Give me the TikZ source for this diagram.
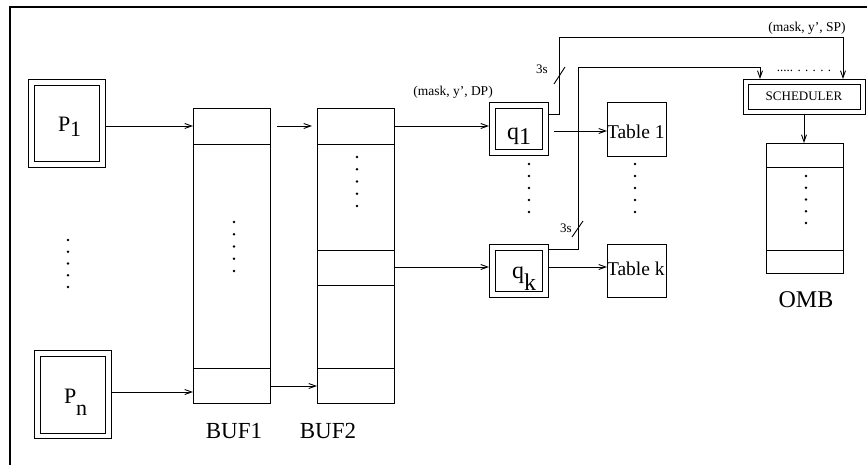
\documentclass[tikz,border=0pt]{standalone}
\usepackage{fontspec}
\setmainfont{Liberation Serif}
\usetikzlibrary{arrows.meta}
\newcommand{\fsz}[1]{\fontsize{#1}{#1}\selectfont}
\begin{document}
\begin{tikzpicture}[x=1pt,y=-1pt,
  box/.style={draw, line width=0.9pt, inner sep=0pt, outer sep=0pt, anchor=north west},
  lbl/.style={inner sep=0pt, outer sep=0pt},
  arr/.style={line width=0.9pt, -{Straight Barb[length=7pt,width=5pt]}},
  wire/.style={line width=0.9pt},
  dotm/.style={fill=black}]
\useasboundingbox (0,0) rectangle (867,465);
% frame
\draw[line width=2pt] (10,466) -- (10,7) -- (867,7);
% P boxes
\node[box, minimum width=77pt, minimum height=88pt] (P1o) at (28,79) {};
\node[box, minimum width=65pt, minimum height=76pt] (P1i) at (34,85) {};
\node[lbl, anchor=base west, font=\fsz{22}] (P1t) at (58,132) {P\raisebox{-5pt}{1}};
\node[box, minimum width=77pt, minimum height=88pt] (Pno) at (34,350) {};
\node[box, minimum width=65pt, minimum height=77pt] (Pni) at (40,356) {};
\node[lbl, anchor=base west, font=\fsz{22}] (Pnt) at (64,403) {P\raisebox{-12pt}{n}};
\foreach \i in {0,...,4} \fill[dotm] (68,240+\i*11.75) circle (1.3);
% BUF1
\node[box, minimum width=77pt, minimum height=295pt] (B1) at (193,108) {};
\draw[wire] (193,144) -- (270,144);
\draw[wire] (193,368) -- (270,368);
\foreach \i in {0,...,4} \fill[dotm] (234,222+\i*12.25) circle (1.3);
\node[lbl, font=\fsz{23}] (B1t) at (234,431) {BUF1};
% BUF2
\node[box, minimum width=77pt, minimum height=295pt] (B2) at (317,108) {};
\draw[wire] (317,144) -- (394,144);
\draw[wire] (317,250) -- (394,250);
\draw[wire] (317,285) -- (394,285);
\draw[wire] (317,368) -- (394,368);
\foreach \i in {0,...,4} \fill[dotm] (357,157+\i*12.25) circle (1.3);
\node[lbl, font=\fsz{23}] (B2t) at (328,431) {BUF2};
% q boxes
\node[box, minimum width=59pt, minimum height=53pt] (q1o) at (489,102) {};
\node[box, minimum width=47pt, minimum height=41pt] (q1i) at (495,108) {};
\node[lbl, anchor=base west, font=\fsz{24}] (q1t) at (507,140) {q\raisebox{-5pt}{1}};
\node[box, minimum width=59pt, minimum height=53pt] (qko) at (489,244) {};
\node[box, minimum width=47pt, minimum height=41pt] (qki) at (495,250) {};
\node[lbl, anchor=base west, font=\fsz{24}] (qkt) at (512,278) {q\raisebox{-12pt}{k}};
\foreach \i in {0,...,4} \fill[dotm] (529,164+\i*12) circle (1.3);
% tables
\node[box, minimum width=59pt, minimum height=54pt] (T1) at (607,102) {};
\node[lbl, anchor=base west, font=\fsz{19.5}] (T1t) at (607,139) {Table 1};
\node[box, minimum width=59pt, minimum height=53pt] (Tk) at (607,244) {};
\node[lbl, anchor=base west, font=\fsz{19.5}] (Tkt) at (607,275) {Table k};
\foreach \i in {0,...,4} \fill[dotm] (635,164+\i*12) circle (1.3);
% scheduler
\node[box, minimum width=122pt, minimum height=35pt] (Scho) at (743,79) {};
\node[box, minimum width=112pt, minimum height=25pt] (Schi) at (748,84) {};
\node[lbl, font=\fsz{13}] (Scht) at (Schi.center) {SCHEDULER};
\node[lbl, font=\fsz{13}] (sdots) at (804,71) {..... . . . . .};
% OMB
\node[box, minimum width=77pt, minimum height=130pt] (OMB) at (766,143) {};
\draw[wire] (766,167) -- (843,167);
\draw[wire] (766,250) -- (843,250);
\foreach \i in {0,...,4} \fill[dotm] (806,176+\i*11.75) circle (1.3);
\node[lbl, font=\fsz{24}] (OMBt) at (806,300) {OMB};
% labels
\node[lbl, font=\fsz{13.5}] (dpl) at (453,92) {(mask, y’, DP)};
\node[lbl, font=\fsz{13.5}] (spl) at (807,28) {(mask, y’, SP)};
\node[lbl, font=\fsz{13}] (s1) at (542,69) {3s};
\node[lbl, font=\fsz{13}] (s2) at (566,228) {3s};
% level coordinates
\coordinate (r1) at (0,126);
\coordinate (rn) at (0,392);
\coordinate (rb) at (0,386);
\coordinate (rk) at (0,267);
\coordinate (rq1) at (0,114);
\coordinate (rqk) at (0,249);
\coordinate (a1) at (277,126);
\coordinate (a2) at (312,126);
\coordinate (t1s) at (554,131);
\coordinate (top1) at (559,37);
\coordinate (top2) at (578,67);
\coordinate (xsp) at (843,0);
\coordinate (xdp) at (760,0);
% connectors
\draw[arr] (P1o.east |- r1) -- (B1.west |- r1);
\draw[arr] (Pno.east |- rn) -- (B1.west |- rn);
\draw[arr] (a1) -- (a2);
\draw[arr] (B1.east |- rb) -- (B2.west |- rb);
\draw[arr] (B2.east |- r1) -- (q1o.west |- r1);
\draw[arr] (B2.east |- rk) -- (qko.west |- rk);
\draw[arr] (t1s) -- (T1.west |- t1s);
\draw[arr] (qko.east |- rk) -- (Tk.west |- rk);
\draw[arr] (q1o.east |- rq1) -| (top1) -| (Scho.north -| xsp);
\draw[arr] (qko.east |- rqk) -| (top2) -| (Scho.north -| xdp);
\draw[arr] (Scho.south) -- (Scho.south |- OMB.north);
% bus slashes
\draw[wire] (554,84) -- (565,67);
\draw[wire] (572,237) -- (583,221);
\end{tikzpicture}
\end{document}
